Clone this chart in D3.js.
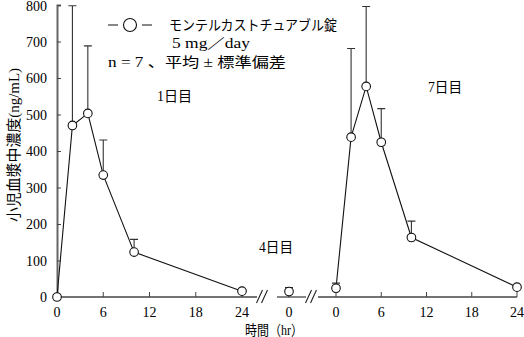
<!DOCTYPE html>
<html>
<head>
<meta charset="utf-8">
<style>
    body { margin: 0; background: #fff; }
    svg { display: block; font-family: 'Liberation Serif', 'DejaVu Serif', 'Noto Sans CJK JP', serif; }
</style>
</head>
<body>
<svg width="524" height="337"></svg>
<script src="https://d3js.org/d3.v7.min.js"></script>
<script>
    // hours after dosing, mean and mean+SD (ng/mL)
    let day1Hours = [0, 2, 4, 6, 10, 24]
    let day1Mean = [0, 470, 503, 334, 123, 16]
    let day1Upper = [0, 798, 688, 430, 158, 20]

    let day4Hours = [0]
    let day4Mean = [15]
    let day4Upper = [26]

    let day7Hours = [0, 2, 4, 6, 10, 24]
    let day7Mean = [24, 438, 577, 424, 163, 27]
    let day7Upper = [38, 681, 796, 516, 208, 32]

    let yTicks = [0, 100, 200, 300, 400, 500, 600, 700, 800]
    let xTicks = [0, 6, 12, 18, 24]

    let svg = d3.select("svg")

    let y = d3.scaleLinear().domain([0, 800]).range([297, 5])
    let x1 = d3.scaleLinear().domain([0, 24]).range([57, 242])
    let x4 = d3.scaleLinear().domain([0, 24]).range([289, 470])
    let x7 = d3.scaleLinear().domain([0, 24]).range([336, 517])

    // y axis
    let yAxis = svg.append("g")
        .attr("transform", "translate(57,0)")
        .call(d3.axisRight(y).tickValues(yTicks).tickSize(4).tickFormat(""))
    yAxis.select(".domain").attr("stroke", "#666").attr("stroke-width", 2)
    yAxis.selectAll(".tick line").attr("stroke", "#444")

    svg.selectAll(".ylab")
        .data(yTicks)
        .join("text")
        .attr("x", 47)
        .attr("y", d => Math.max(y(d) + 5, 11))
        .attr("text-anchor", "end")
        .style("font-size", "14px")
        .text(d => d)

    // x axis pieces
    let axisColor = "#444"
    function xAxisPart(scale, ticks, from, to) {
        svg.append("line")
            .attr("x1", from).attr("x2", to)
            .attr("y1", 297).attr("y2", 297)
            .attr("stroke", axisColor).attr("stroke-width", 1.3)
        svg.selectAll(null)
            .data(ticks)
            .join("line")
            .attr("x1", d => scale(d)).attr("x2", d => scale(d))
            .attr("y1", 297).attr("y2", 292)
            .attr("stroke", axisColor)
        svg.selectAll(null)
            .data(ticks)
            .join("text")
            .attr("x", d => scale(d))
            .attr("y", 317)
            .attr("text-anchor", "middle")
            .style("font-size", "14px")
            .text(d => d)
    }
    xAxisPart(x1, xTicks, 57, 257)
    xAxisPart(x4, [0], 277, 306)
    xAxisPart(x7, xTicks, 318, 517)

    // break marks
    let breaks = [262, 311]
    breaks.forEach(bx => {
        [-2.5, 2.5].forEach(off => {
            svg.append("line")
                .attr("x1", bx + off - 3).attr("y1", 303)
                .attr("x2", bx + off + 3).attr("y2", 290)
                .attr("stroke", "#222").attr("stroke-width", 1.1)
        })
    })

    // series
    let line = d3.line()
    function drawDay(scale, hours, mean, upper) {
        let pts = hours.map((h, i) => ({ x: scale(h), m: mean[i], u: upper[i] }))
        if (pts.length > 1) {
            svg.append("path")
                .attr("d", line(pts.map(p => [p.x, y(p.m)])))
                .attr("fill", "none")
                .attr("stroke", "#111")
                .attr("stroke-width", 1.1)
        }
        let g = svg.append("g")
        g.selectAll(".err")
            .data(pts.filter(p => p.u > p.m))
            .join("path")
            .attr("d", p => "M" + p.x + "," + y(p.m) + "V" + y(p.u) + "M" + (p.x - 4) + "," + y(p.u) + "H" + (p.x + 4))
            .attr("fill", "none")
            .attr("stroke", "#333")
            .attr("stroke-width", 1.1)
        g.selectAll("circle")
            .data(pts)
            .join("circle")
            .attr("cx", p => p.x)
            .attr("cy", p => y(p.m))
            .attr("r", 4.3)
            .attr("fill", "#fff")
            .attr("stroke", "#111")
            .attr("stroke-width", 1.1)
    }
    drawDay(x1, day1Hours, day1Mean, day1Upper)
    drawDay(x4, day4Hours, day4Mean, day4Upper)
    drawDay(x7, day7Hours, day7Mean, day7Upper)

    // legend
    svg.append("line").attr("x1", 108).attr("x2", 152).attr("y1", 25).attr("y2", 25)
        .attr("stroke", "#111").attr("stroke-width", 1.1)
    svg.append("circle").attr("cx", 130).attr("cy", 25).attr("r", 6.5)
        .attr("fill", "#fff").attr("stroke", "#111").attr("stroke-width", 1.1)
    svg.append("rect").attr("x", 118).attr("y", 23).attr("width", 5).attr("height", 4).attr("fill", "#fff")
    svg.append("rect").attr("x", 137).attr("y", 23).attr("width", 5).attr("height", 4).attr("fill", "#fff")

    let texts = [
        { t: "モンテルカストチュアブル錠", x: 169, y: 30, w: 168 },
        { t: "5 mg／day", x: 172, y: 48, w: 78 },
        { t: "n = 7 、平均 ± 標準偏差", x: 108, y: 67, w: 178 },
        { t: "1日目", x: 157, y: 101, w: 35 },
        { t: "4日目", x: 259, y: 252, w: 34 },
        { t: "7日目", x: 428, y: 92, w: 34 },
        { t: "時間（hr）", x: 245, y: 335, w: 58 }
    ]
    svg.selectAll(".lab")
        .data(texts)
        .join("text")
        .attr("x", d => d.x)
        .attr("y", d => d.y)
        .attr("textLength", d => d.w)
        .attr("lengthAdjust", "spacingAndGlyphs")
        .style("font-size", "14px")
        .text(d => d.t)

    svg.append("text")
        .attr("transform", "translate(19,145) rotate(-90)")
        .attr("text-anchor", "middle")
        .attr("textLength", 154)
        .attr("lengthAdjust", "spacingAndGlyphs")
        .style("font-size", "15px")
        .text("小児血漿中濃度(ng/mL)")
</script>
</body>
</html>
